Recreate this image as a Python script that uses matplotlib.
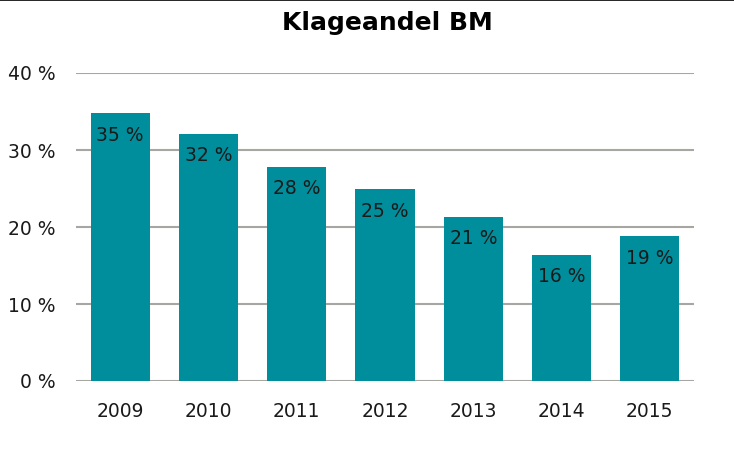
import matplotlib
matplotlib.use("Agg")
import matplotlib.pyplot as plt

# Data
years = ["2009", "2010", "2011", "2012", "2013", "2014", "2015"]
shares = [34.8, 32.1, 27.8, 24.9, 21.3, 16.4, 18.8]
labels = ["35 %", "32 %", "28 %", "25 %", "21 %", "16 %", "19 %"]
yticks = [0, 10, 20, 30, 40]

teal = "#008E9C"
grid = "#A6A6A2"

plt.rcParams['font.family'] = ['DejaVu Sans']

fig = plt.figure(figsize=(7.34, 4.51), dpi=100)
ax = fig.add_axes([76/734, 1-381/451, (694-76)/734, (381-73)/451])

x = range(len(years))
ax.bar(x, shares, width=0.67, color=teal, zorder=2)
for i, (v, t) in enumerate(zip(shares, labels)):
    ax.annotate(t, (i, v), xytext=(0, -22), textcoords="offset pixels",
                ha="center", va="center", fontsize=13.5, color="#1a1a1a", zorder=3)

ax.set_xlim(-0.5, len(years)-0.5)
ax.set_ylim(0, 40)
ax.set_yticks(yticks)
ax.set_yticklabels([f"{t} %" for t in yticks])
ax.set_xticks(list(x))
ax.set_xticklabels(years)
ax.tick_params(length=0, labelsize=13.5, colors="#1a1a1a")
ax.tick_params(axis="y", pad=15)
ax.tick_params(axis="x", pad=15)
for s in ax.spines.values():
    s.set_visible(False)
ax.yaxis.grid(True, color=grid, linewidth=1.5, zorder=0)
ax.set_axisbelow(True)

fig.text(387/734, 1-23/451, "Klageandel BM", ha="center", va="center",
         fontsize=18, fontweight="bold", color="black")
fig.add_artist(plt.Line2D([0, 1], [0.999, 0.999], transform=fig.transFigure,
                          color="black", linewidth=1.2))

fig.savefig("out.png", dpi=100)
